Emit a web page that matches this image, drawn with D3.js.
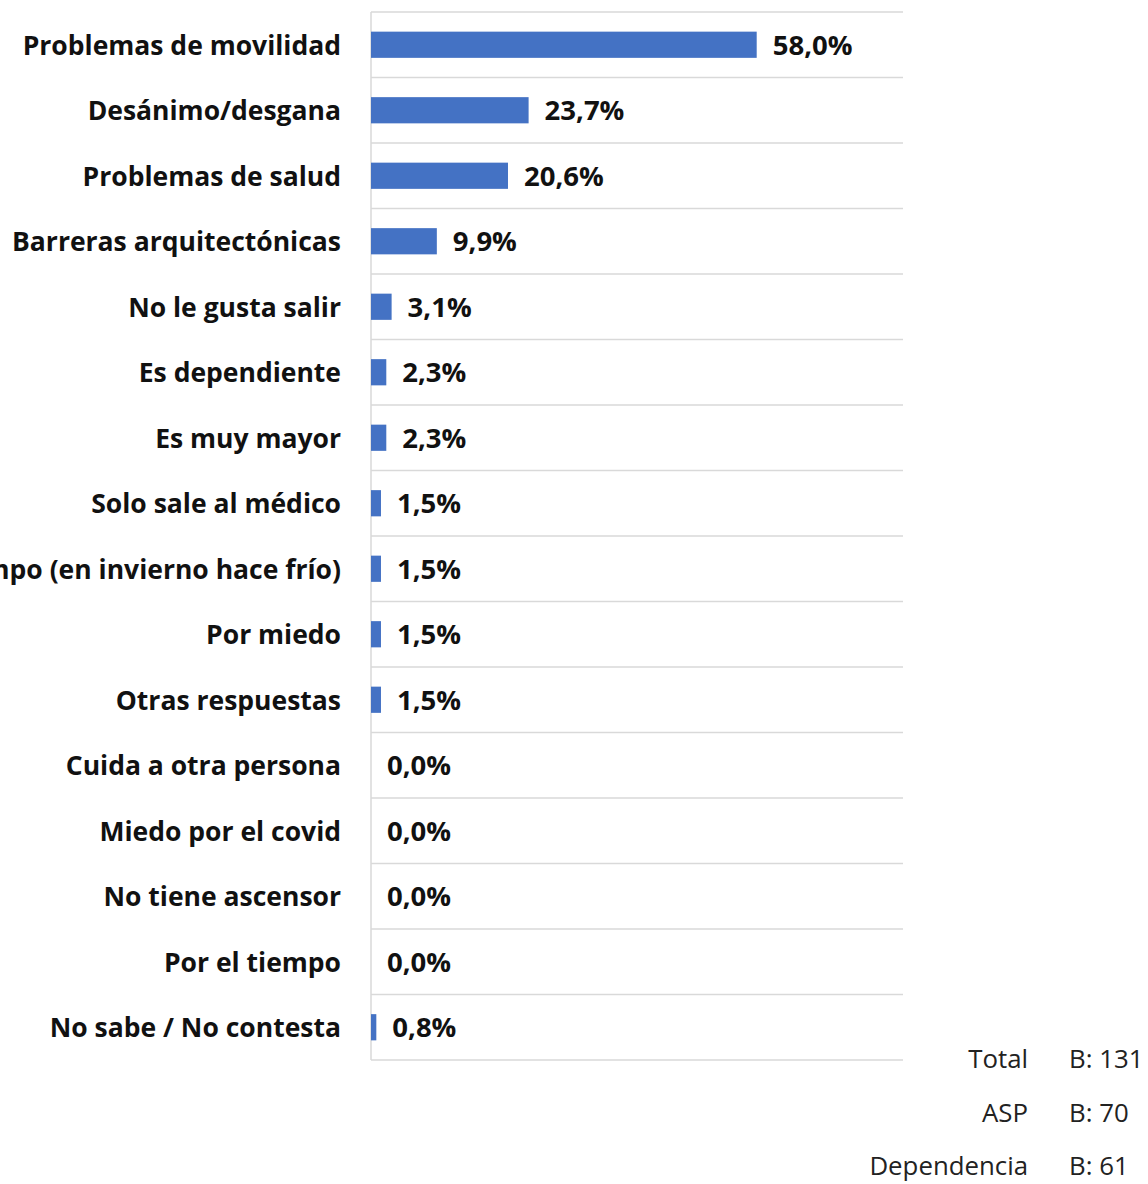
<!DOCTYPE html>
<html><head><meta charset="utf-8">
<script src="https://cdn.jsdelivr.net/npm/d3@7"></script>
<style>html,body{margin:0;padding:0;background:#fff;overflow:hidden}</style>
</head><body>
<svg id="c" width="1148" height="1184"></svg>
<script>
const categories = ["Problemas de movilidad","Desánimo/desgana","Problemas de salud","Barreras arquitectónicas","No le gusta salir","Es dependiente","Es muy mayor","Solo sale al médico","Mal tiempo (en invierno hace frío)","Por miedo","Otras respuestas","Cuida a otra persona","Miedo por el covid","No tiene ascensor","Por el tiempo","No sabe / No contesta"];
const values = [58.0,23.7,20.6,9.9,3.1,2.3,2.3,1.5,1.5,1.5,1.5,0.0,0.0,0.0,0.0,0.8];
const baseLabels = ["Total","ASP","Dependencia"];
const baseValues = ["B: 131","B: 70","B: 61"];

const svg = d3.select("#c");
const pLeft = 371, pRight = 903, pTop = 12, pBottom = 1060;
const x = d3.scaleLinear().domain([0,80]).range([pLeft,pRight]);
const y = d3.scaleBand().domain(categories).range([pTop,pBottom]).paddingInner(0.6).paddingOuter(0.3);
const font = "'Open Sans', sans-serif";

const sep = d3.range(categories.length+1).map(i => pTop + i*(pBottom-pTop)/categories.length);
svg.selectAll("line.g").data(sep).join("line")
  .attr("x1",pLeft).attr("x2",pRight).attr("y1",d=>d).attr("y2",d=>d)
  .attr("stroke","#d9d9d9").attr("stroke-width",1.5);
svg.append("line").attr("x1",pLeft).attr("x2",pLeft).attr("y1",pTop).attr("y2",pBottom)
  .attr("stroke","#d9d9d9").attr("stroke-width",1.5);

svg.selectAll("rect.b").data(categories).join("rect")
  .attr("x",pLeft).attr("y",d=>y(d)).attr("height",y.bandwidth())
  .attr("width",(d,i)=>x(values[i])-pLeft).attr("fill","#4472c4");

svg.selectAll("text.v").data(categories).join("text")
  .attr("x",(d,i)=>x(values[i])+16).attr("y",d=>y(d)+y.bandwidth()/2)
  .attr("dy","0.36em").attr("font-family",font).attr("font-weight",700)
  .attr("font-size",27.5).attr("fill","#111")
  .text((d,i)=>values[i].toFixed(1).replace(".",",")+"%");

svg.selectAll("text.c").data(categories).join("text")
  .attr("x",341).attr("y",d=>y(d)+y.bandwidth()/2)
  .attr("dy","0.37em").attr("text-anchor","end").attr("font-family",font).attr("font-weight",700)
  .attr("font-size",26.5).attr("fill","#111").text(d=>d);

const by = [1059,1113,1166];
svg.selectAll("text.bl").data(baseLabels).join("text")
  .attr("x",1028).attr("y",(d,i)=>by[i]).attr("dy","0.35em").attr("text-anchor","end")
  .attr("font-family",font).attr("font-size",25.8).attr("fill","#222").text(d=>d);
svg.selectAll("text.bv").data(baseValues).join("text")
  .attr("x",1069).attr("y",(d,i)=>by[i]).attr("dy","0.35em")
  .attr("font-family",font).attr("font-size",25.8).attr("fill","#222").text(d=>d);
</script>
</body></html>
